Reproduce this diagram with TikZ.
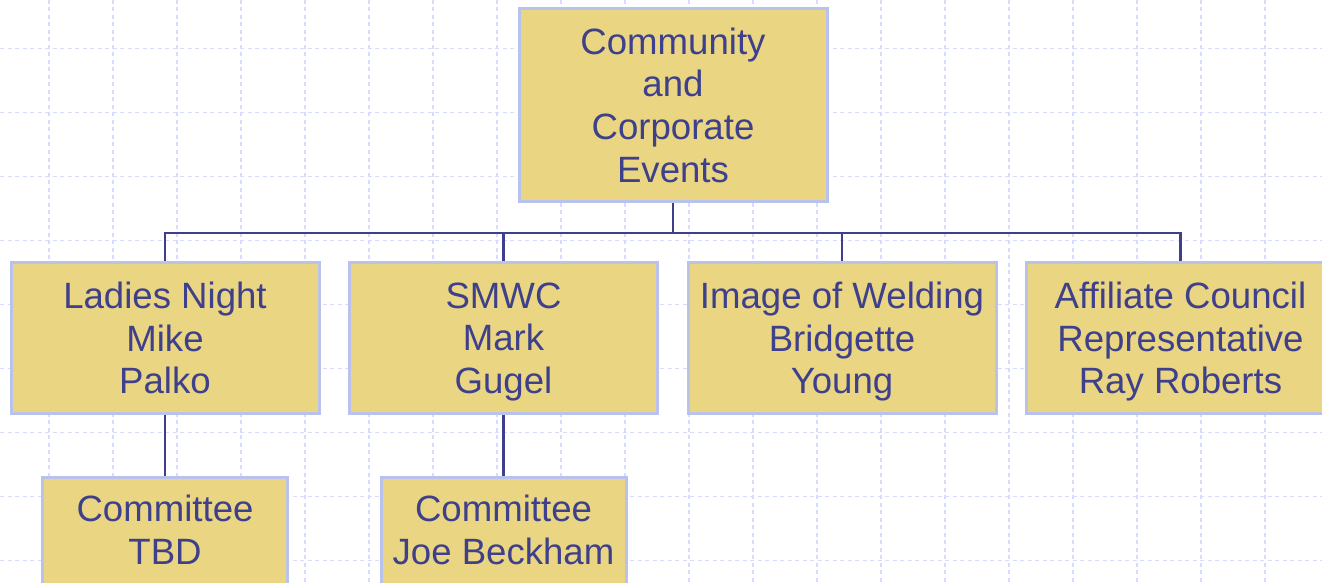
\documentclass[tikz,border=0pt]{standalone}
\usepackage{fontspec}
\setmainfont{Liberation Sans}
\usetikzlibrary{positioning}
\definecolor{boxfill}{RGB}{233,213,130}
\definecolor{boxline}{RGB}{184,194,236}
\definecolor{inkblue}{RGB}{62,64,140}
\definecolor{gridblue}{RGB}{214,220,255}

\begin{document}
\begin{tikzpicture}[x=1pt,y=-1pt,node distance=338.5pt,
        box/.style={rectangle,draw=boxline,fill=boxfill,line width=3pt,text=inkblue,
          align=center,inner sep=0pt,font=\fontsize{36.6}{42.7}\selectfont,text depth=0pt},
        head node/.style={box,minimum width=308pt,minimum height=193pt},
        lead node/.style={box,minimum width=308pt,minimum height=151pt},
        crew node/.style={box,minimum width=245pt,inner ysep=18pt,text depth=25pt,anchor=north},
        link/.style={draw=inkblue,line width=2.5pt},
        grid line/.style={gridblue,line width=1.5pt,dash pattern=on 4pt off 3.5pt}]
        \useasboundingbox (0,0) rectangle (1322,583);
        % background grid
        \foreach \gx in {0,...,19}
          \draw[grid line] (49+64*\gx,0) -- (49+64*\gx,583);
        \foreach \gy in {0,...,8}
          \draw[grid line] (0,48.5+64*\gy) -- (1322,48.5+64*\gy);
        % boxes
        \node[head node] (events) at (673,105) {Community\\and\\Corporate\\Events};
        \node[lead node] (ladies) at (165,338) {Ladies Night\\Mike\\Palko};
        \node[lead node] (smwc) [right of=ladies] {SMWC\\Mark\\Gugel};
        \node[lead node] (image) [right of=smwc] {Image of Welding\\Bridgette\\Young};
        \node[lead node] (affiliate) [right of=image] {Affiliate Council\\Representative\\Ray Roberts};
        \node[crew node] (ladiescrew) at (165,475.5) {Committee\\TBD};
        \node[crew node] (smwccrew) at (503.5,475.5) {Committee\\Joe Beckham};
        % connectors
        \coordinate (bus) at (673,233);
        \draw[link] (events.south) -- (bus);
        \foreach \n in {ladies,smwc,image,affiliate}
          \draw[link] (bus) -| (\n.north);
        \draw[link] (ladies.south) -- (ladiescrew.north);
        \draw[link] (smwc.south) -- (smwccrew.north);
\end{tikzpicture}
\end{document}
